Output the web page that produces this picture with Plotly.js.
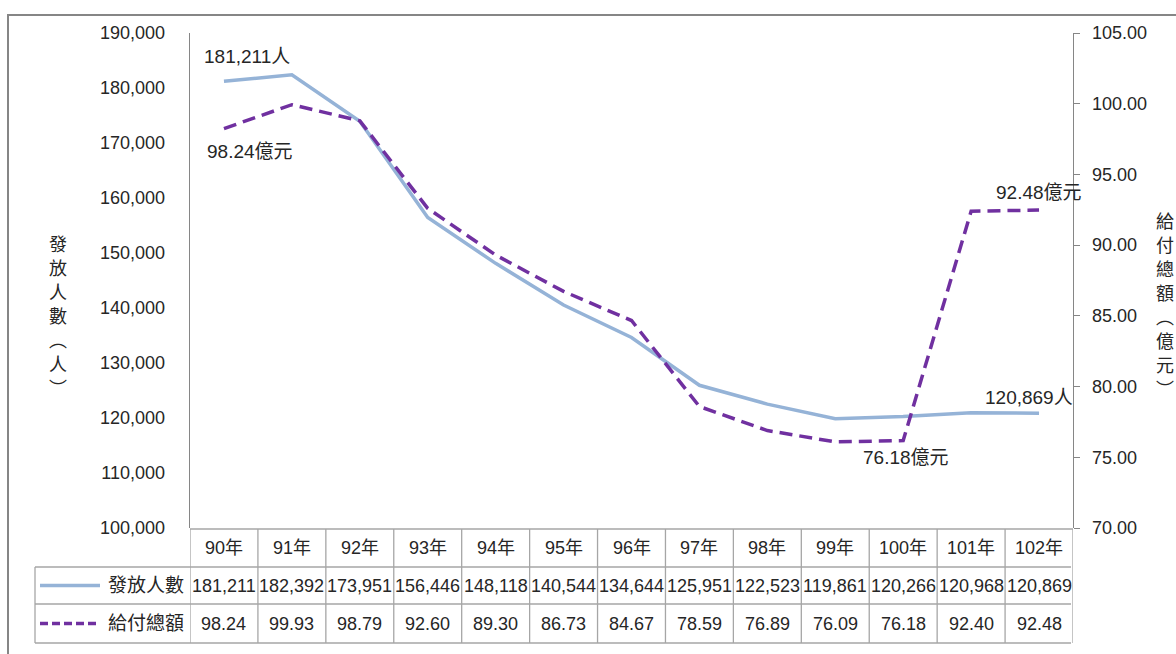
<!DOCTYPE html>
<html>
<head>
<meta charset="utf-8">
<script src="https://cdn.plot.ly/plotly-3.0.1.min.js"></script>
<style>html,body{margin:0;padding:0;background:#fff;}#chart{width:1176px;height:654px;}</style>
</head>
<body>
<div id="chart"></div>
<script>
// ---- data ----
const years = ['90年','91年','92年','93年','94年','95年','96年','97年','98年','99年','100年','101年','102年'];
const persons = [181211,182392,173951,156446,148118,140544,134644,125951,122523,119861,120266,120968,120869];
const payments = [98.24,99.93,98.79,92.60,89.30,86.73,84.67,78.59,76.89,76.09,76.18,92.40,92.48];
const seriesNames = ['發放人數','給付總額'];
const leftTitle = '發放人數(人)';
const rightTitle = '給付總額(億元)';
const personUnit = '人';
const payUnit = '億元';

// ---- layout geometry (pixels) ----
const W = 1176, H = 654;
const L = 190, R = 1073, T = 33, B = 528;
const pw = R - L, ph = B - T;
const px = x => (x - L) / pw;
const py = y => (B - y) / ph;

const FONT = 'Liberation Sans, Noto Sans CJK TC, sans-serif';
const TXT = '#262626';
const GRID = '#A6A6A6';
const BLUE = '#95B3D7';
const PURPLE = '#7030A0';

const fmtP = v => v.toLocaleString('en-US');
const fmtM = v => v.toFixed(2);

const traces = [
  {x: years.map((_, i) => i), y: persons, name: seriesNames[0], type: 'scatter', mode: 'lines',
   line: {color: BLUE, width: 3.5}, yaxis: 'y', hoverinfo: 'skip'},
  {x: years.map((_, i) => i), y: payments, name: seriesNames[1], type: 'scatter', mode: 'lines',
   line: {color: PURPLE, width: 3.5, dash: '13px,7px'}, yaxis: 'y2', hoverinfo: 'skip'}
];

const shapes = [];
const annotations = [];

// outer chart border
shapes.push({type: 'rect', xref: 'paper', yref: 'paper', x0: px(8), x1: px(1200), y0: py(15), y1: py(680),
  line: {color: '#868686', width: 2}, fillcolor: 'rgba(0,0,0,0)', layer: 'below'});

// table geometry
const rowY = [529, 567, 604, 643];
const tableLeft = 35;
const n = years.length;
shapes.push({type: 'line', xref: 'x', yref: 'paper', x0: -0.5, x1: n - 0.5, y0: py(rowY[0]), y1: py(rowY[0]), line: {color: GRID, width: 1.3}});
for (let r = 1; r < rowY.length; r++) {
  shapes.push({type: 'line', xref: 'paper', yref: 'paper', x0: px(tableLeft), x1: px(R - 2), y0: py(rowY[r]), y1: py(rowY[r]), line: {color: GRID, width: 1.3}});
}
for (let i = 0; i <= n; i++) {
  shapes.push({type: 'line', xref: 'x', yref: 'paper', x0: i - 0.5, x1: i - 0.5, y0: py(rowY[0]), y1: py(rowY[3]), line: {color: GRID, width: 1.3}});
}
shapes.push({type: 'line', xref: 'paper', yref: 'paper', x0: px(tableLeft), x1: px(tableLeft), y0: py(rowY[1]), y1: py(rowY[3]), line: {color: GRID, width: 1.3}});

// legend samples in table
const rowMid = r => py((rowY[r] + rowY[r + 1]) / 2);
shapes.push({type: 'line', xref: 'paper', yref: 'paper', x0: px(40), x1: px(100), y0: rowMid(1), y1: rowMid(1), line: {color: BLUE, width: 3.5}});
shapes.push({type: 'line', xref: 'paper', yref: 'paper', x0: px(40), x1: px(100), y0: rowMid(2), y1: rowMid(2), line: {color: PURPLE, width: 3.5, dash: '8px,4px'}});
annotations.push({xref: 'paper', yref: 'paper', x: px(186), y: rowMid(1), text: seriesNames[0], showarrow: false, xanchor: 'right', yanchor: 'middle', font: {family: FONT, size: 19, color: TXT}});
annotations.push({xref: 'paper', yref: 'paper', x: px(186), y: rowMid(2), text: seriesNames[1], showarrow: false, xanchor: 'right', yanchor: 'middle', font: {family: FONT, size: 19, color: TXT}});

// table cells
years.forEach((yr, i) => {
  annotations.push({xref: 'x', yref: 'paper', x: i, y: rowMid(0), text: yr, showarrow: false, yanchor: 'middle', font: {family: FONT, size: 18, color: TXT}});
  annotations.push({xref: 'x', yref: 'paper', x: i, y: rowMid(1), text: fmtP(persons[i]), showarrow: false, yanchor: 'middle', font: {family: FONT, size: 18, color: TXT}});
  annotations.push({xref: 'x', yref: 'paper', x: i, y: rowMid(2), text: fmtM(payments[i]), showarrow: false, yanchor: 'middle', font: {family: FONT, size: 18, color: TXT}});
});

// data labels
const last = n - 1;
const lab = (x, y, yref, text, xs, ys) => annotations.push({xref: 'x', yref: yref, x: x, y: y, text: text, showarrow: false,
  xshift: xs, yshift: ys, font: {family: FONT, size: 19, color: TXT}});
lab(0, persons[0], 'y', fmtP(persons[0]) + personUnit, 23, 25);
lab(0, payments[0], 'y2', fmtM(payments[0]) + payUnit, 26, -23);
lab(last, payments[last], 'y2', fmtM(payments[last]) + payUnit, 0, 18);
lab(last, persons[last], 'y', fmtP(persons[last]) + personUnit, -10, 16);
lab(10, payments[10], 'y2', fmtM(payments[10]) + payUnit, 3, -17);

// vertical axis titles, one character per annotation (stacked)
const vertChars = s => s.replace('(', '︵').replace(')', '︶').split('');
const stack = (s, cx, topY, pitch) => vertChars(s).forEach((ch, k) => annotations.push({
  xref: 'paper', yref: 'paper', x: px(cx), y: py(topY + k * pitch), text: ch, showarrow: false, borderpad: 0,
  xanchor: 'center', yanchor: 'middle', font: {family: 'Noto Sans CJK TC, sans-serif', size: 18, color: TXT}}));
stack(leftTitle, 58, 243, 24);
stack(rightTitle, 1165, 220, 24);

const layout = {
  width: W, height: H,
  margin: {l: L, r: W - R, t: T, b: H - B, pad: 0},
  paper_bgcolor: '#fff', plot_bgcolor: '#fff',
  showlegend: false,
  font: {family: FONT, size: 18, color: TXT},
  xaxis: {range: [-0.5, n - 0.5], showgrid: false, zeroline: false, showline: false, showticklabels: false, ticks: '', fixedrange: true},
  yaxis: {range: [100000, 190000], dtick: 10000, tickformat: ',d', showgrid: false, zeroline: false,
    showline: true, linecolor: '#868686', linewidth: 1.3, ticks: '', ticklabelstandoff: 20,
    tickfont: {family: FONT, size: 18, color: TXT}},
  yaxis2: {range: [70, 105], dtick: 5, tickformat: '.2f', overlaying: 'y', side: 'right', showgrid: false, zeroline: false,
    showline: true, linecolor: '#868686', linewidth: 1.3, ticks: 'outside', ticklen: 6, tickcolor: '#868686', ticklabelstandoff: 8,
    tickfont: {family: FONT, size: 18, color: TXT}},
  shapes: shapes,
  annotations: annotations
};

Plotly.newPlot('chart', traces, layout, {staticPlot: true, displayModeBar: false});
</script>
</body>
</html>
